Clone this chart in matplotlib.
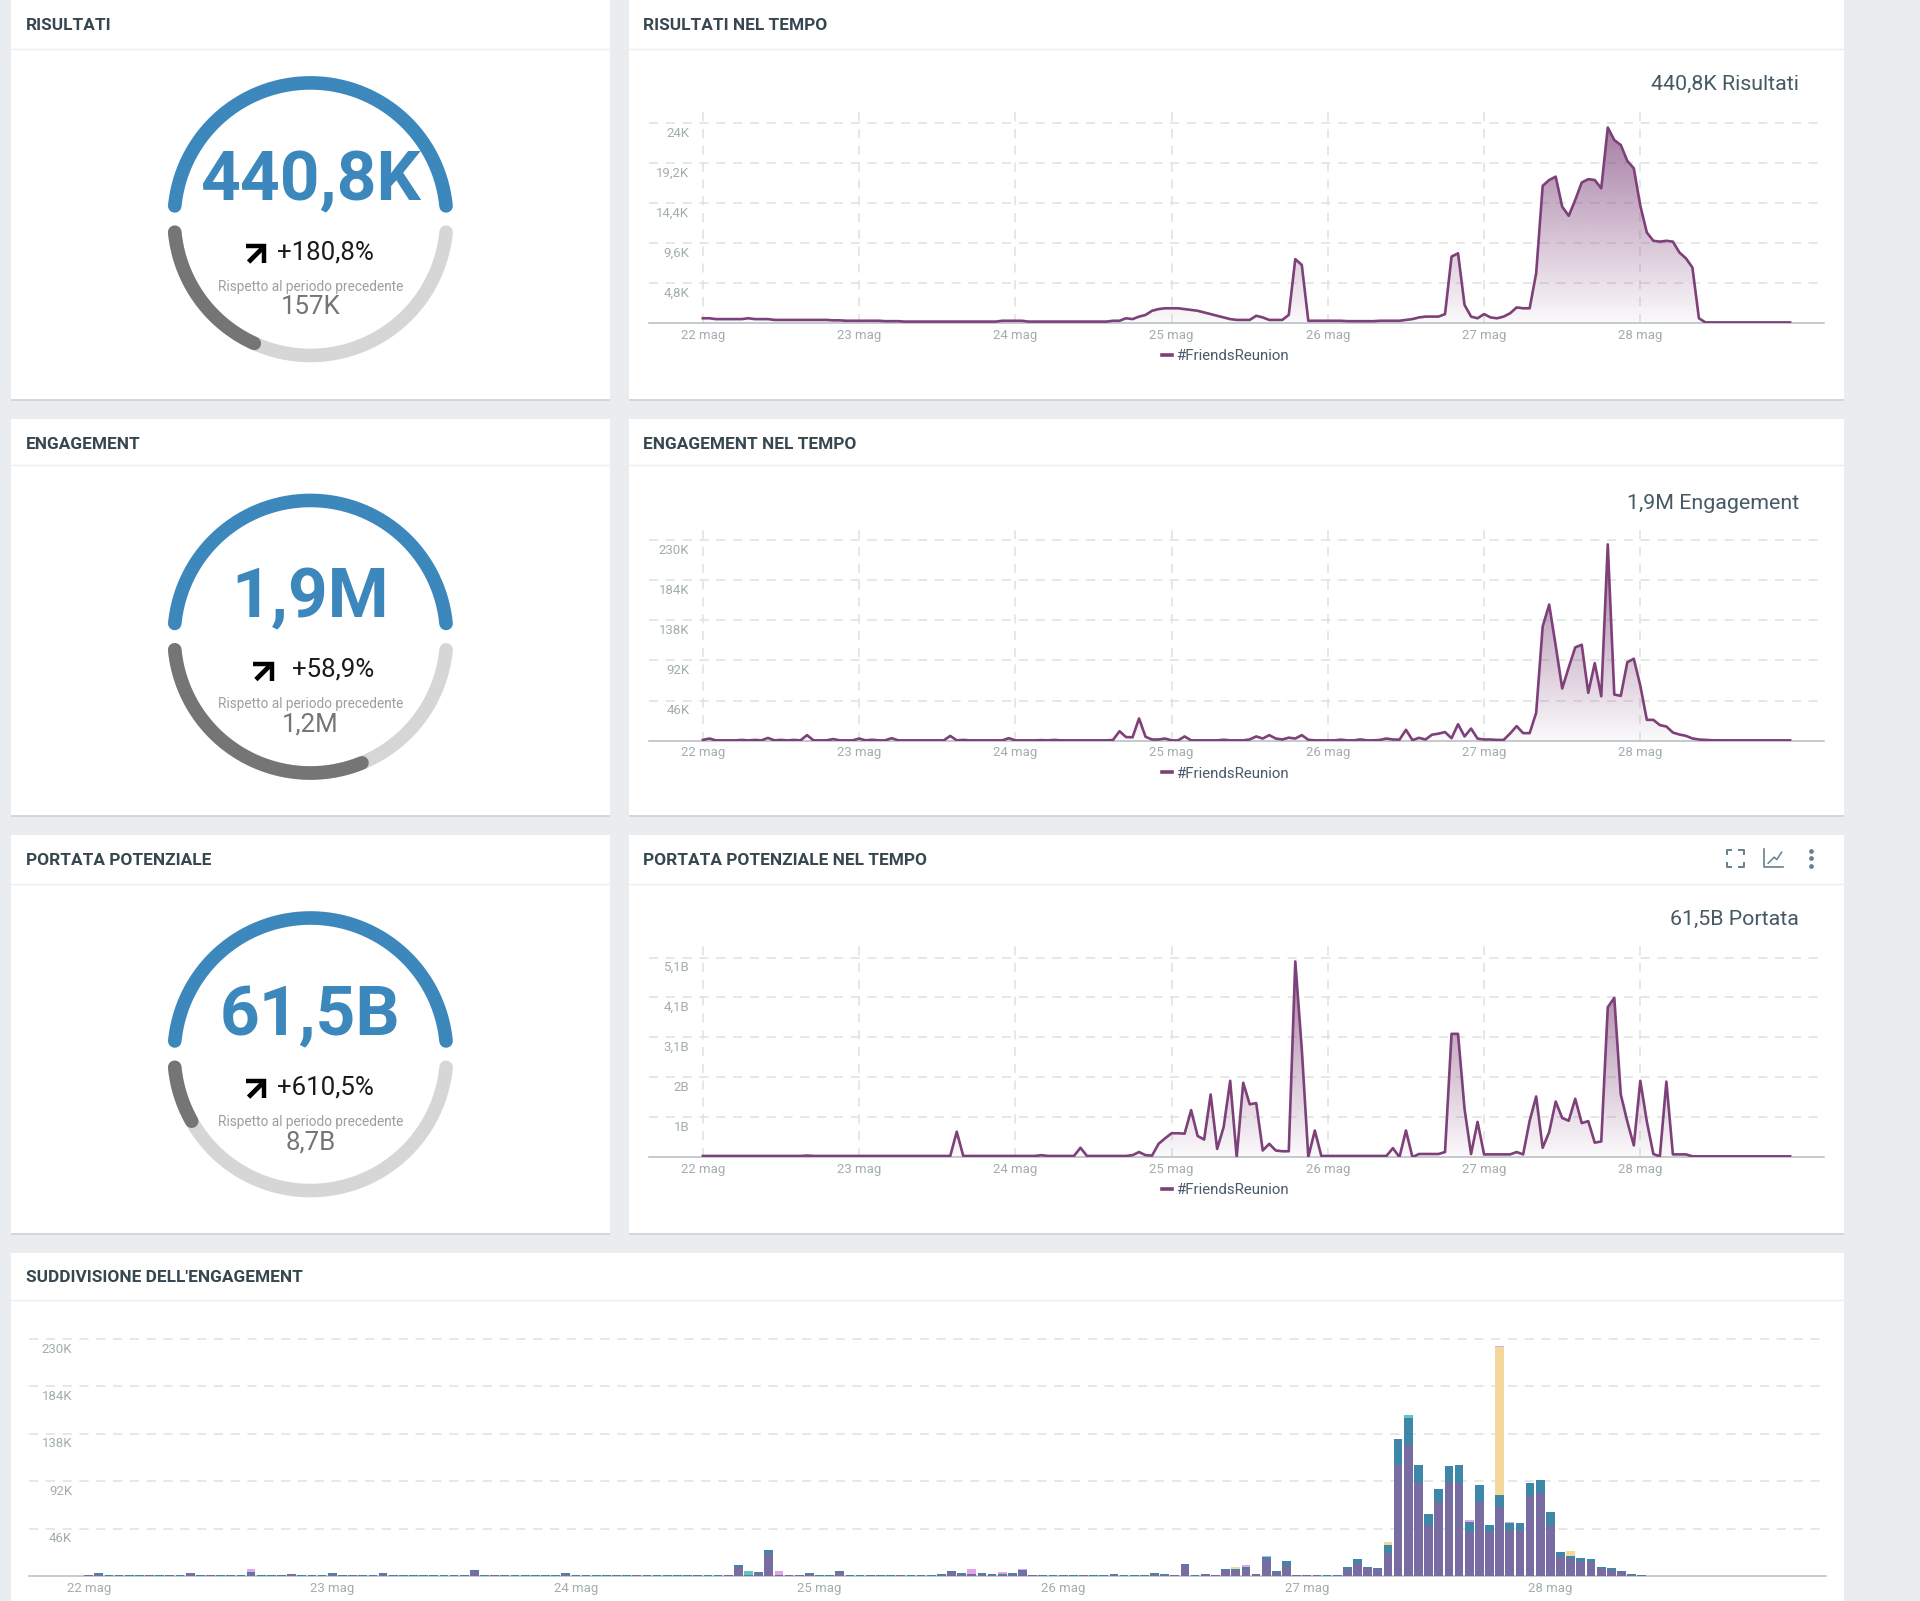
import numpy as np
import matplotlib
matplotlib.use('Agg')
import matplotlib.pyplot as plt
from matplotlib.patches import Rectangle
from matplotlib.transforms import ScaledTranslation

plt.rcParams['font.family'] = ['Roboto', 'DejaVu Sans']

# ---------- data (hourly, 22 May 00:00 onward) ----------
days = ['22 mag', '23 mag', '24 mag', '25 mag', '26 mag', '27 mag', '28 mag']

risultati = [
    .6,.6,.5,.5,.5,.5,.5,.6,.5,.5,.5,.4,.4,.4,.4,.4,.4,.4,.4,.4,.35,.35,.3,.3,
    .3,.3,.3,.3,.25,.25,.25,.2,.2,.2,.2,.2,.2,.2,.2,.2,.2,.2,.2,.2,.2,.2,.3,.3,
    .3,.3,.2,.2,.2,.2,.2,.2,.2,.2,.2,.2,.2,.2,.2,.3,.3,.6,.5,.8,1.0,1.5,1.7,1.8,
    1.8,1.8,1.7,1.6,1.5,1.3,1.1,.9,.7,.5,.4,.4,.4,.9,.7,.4,.4,.4,1.0,7.7,7,.3,.3,.3,
    .3,.3,.3,.25,.25,.25,.25,.25,.3,.3,.3,.3,.4,.5,.7,.8,.8,.8,1.1,8,8.4,2.2,.8,.6,
    1.1,.7,.6,.8,1.2,1.9,1.8,1.8,6,16.5,17.2,17.6,14,12.9,14.8,16.9,17.3,17.2,16.2,23.5,22,21.4,19.5,18.6,
    14.1,10.9,9.9,9.8,9.9,9.8,8.5,7.8,6.7,.6,.1,.1,.1,.1,.1,.1,.1,.1,.1,.1,.1,.1,.1,.1]

engagement = [
    1,2.6,.5,.5,.5,.5,1,.5,1,.5,3.3,.5,1,.5,1,.5,6.5,.5,.5,.5,2,.5,.5,.5,
    2.6,.5,1.2,.5,.5,3,.5,.5,.5,.5,.5,.5,.5,.5,5.6,.5,1,.5,.5,.5,.5,.5,.5,3,
    .5,.5,.5,.5,.8,.5,1,.5,.5,.5,.5,.5,.5,.5,.5,1,11,4.3,4,25.6,4.6,1.5,1.5,2.6,
    .5,.5,5,.5,.5,.5,.5,.5,1.2,.5,.5,.5,1.6,5,2.6,6.5,2.6,1.5,3.6,2.6,6.5,1.2,.5,.5,
    .5,.5,1.3,.5,.5,1.6,.5,.5,1,2.6,1.5,1.3,12.6,.8,3.4,1.5,7,8.2,10,3,19,5,14,2.5,
    1.5,1.5,1,1,8.4,16.8,8.8,8.8,32,131,156,109,60,84,107,110,55,89,51,225,53,51.5,90,94,
    63,24,24,18,16.4,9.5,7.2,5.7,2.7,1.5,1,.6,.5,.5,.5,.5,.5,.5,.5,.5,.5,.5,.5,.5]

portata = [
    .03,.03,.03,.03,.03,.03,.03,.03,.03,.03,.03,.03,.03,.03,.03,.03,.04,.03,.03,.03,.03,.03,.03,.03,
    .03,.03,.03,.03,.03,.03,.03,.03,.03,.03,.03,.03,.03,.03,.03,.65,.03,.03,.03,.03,.03,.03,.03,.03,
    .03,.03,.03,.03,.05,.03,.03,.03,.03,.03,.24,.03,.03,.03,.03,.03,.03,.03,.05,.13,.05,.04,.34,.48,
    .61,.61,.6,1.2,.54,.45,1.6,.21,.77,1.95,0,1.9,1.35,1.38,.17,.34,.17,.15,.15,5,2.76,0,.68,.03,
    .03,.03,.03,.03,.03,.03,.03,.03,.03,.03,.23,0,.68,0,.08,.08,.08,.08,.13,3.15,3.15,1.23,.08,.9,
    .07,.07,.07,.07,.07,.13,.07,.93,1.55,.24,.64,1.42,1,.93,1.49,.87,.92,.37,.4,3.83,4.07,1.6,.91,.3,
    1.95,.91,.08,.02,1.93,.07,.07,.07,.02,.02,.02,.02,.02,.02,.02,.02,.02,.02,.02,.02,.02,.02,.02,.02]

bar_purple = [
    .4,1.9,.3,.3,.3,.3,.7,.3,.7,.3,2.5,.3,.7,.3,.7,.3,3,.3,.3,.3,1.5,.3,.3,.3,
    2,.3,.9,.3,.3,2.3,.3,.3,.3,.3,.3,.3,.3,.3,4.4,.3,.7,.3,.3,.3,.3,.3,.3,2.3,
    .3,.3,.3,.3,.5,.3,.7,.3,.3,.3,.3,.3,.3,.3,.3,.7,8.8,.8,3,21.5,.7,1,1,1.9,
    .3,.3,3.8,.3,.3,.3,.3,.3,.8,.3,.3,.3,1.1,3.8,1.9,1.5,1.9,1,1.2,1.9,4.5,.8,.3,.3,
    .3,.3,.9,.3,.3,1.1,.3,.3,.3,1.9,1.1,.9,10.2,.3,1.4,.7,5.5,5.5,7,1.7,15.5,3.8,11,.7,
    .6,.5,.3,.3,6.5,12.9,7.4,6.5,22.6,107.4,127,90,49.7,72,91,90,43,72,42.6,66.8,44.5,44.5,78,80.6,
    49.7,19.4,16.1,14.8,13.5,7.7,6.1,4.2,1.3,.4,.2,.2,.2,.2,.2,.2,.2,.2,.2,.2,.2,.2,.2,.2]

bar_blue = [
    .1,.5,.1,.1,.1,.1,.1,.1,.1,.1,.5,.1,.1,.1,.1,.1,.4,.1,.1,.1,.3,.1,.1,.1,
    .4,.1,.2,.1,.1,.5,.1,.1,.1,.1,.1,.1,.1,.1,.9,.1,.2,.1,.1,.1,.1,.1,.1,.5,
    .1,.1,.1,.1,.2,.1,.2,.1,.1,.1,.1,.1,.1,.1,.1,.2,1.8,.5,.7,3.2,.3,.3,.3,.5,
    .1,.1,1,.1,.1,.1,.1,.1,.3,.1,.1,.1,.4,1,.5,.4,.5,.4,.3,.5,1,.3,.1,.1,
    .1,.1,.3,.1,.1,.4,.1,.1,.1,.5,.3,.3,1.5,.1,.4,.2,1,1.2,1.5,.4,3,1.2,3.3,.2,
    .2,.2,.1,.1,2.5,3.2,1.6,1.2,7.7,25.6,26,17.7,10.3,12.5,16,18,9,16,7.1,12.2,7.1,7.1,12,12.4,
    12.3,3.8,3.3,2.2,2.6,1.3,1.3,1,.3,.1,.1,.1,.1,.1,.1,.1,.1,.1,.1,.1,.1,.1,.1,.1]

yellow_hours = [113, 128, 139, 146]
yellow_vals = [1.5, 2.9, 143.6, 4.5]
pink_hours = [16, 68, 87, 90, 92, 114, 116, 136, 139, 140]
pink_vals = [3.1, 3.6, 4.6, 2.1, 1, 2, 1.2, 2, .9, .9]
teal_hours = [65, 130]
teal_vals = [3, 3.5]

panels = [
    dict(title='RISULTATI', big='440,8K', delta='+180,8%', prev='157K', ratio=157/440.8),
    dict(title='ENGAGEMENT', big='1,9M', delta='+58,9%', prev='1,2M', ratio=1.2/1.9),
    dict(title='PORTATA POTENZIALE', big='61,5B', delta='+610,5%', prev='8,7B', ratio=8.7/61.5),
]
series_titles = ['RISULTATI NEL TEMPO', 'ENGAGEMENT NEL TEMPO', 'PORTATA POTENZIALE NEL TEMPO']
series_totals = ['440,8K Risultati', '1,9M Engagement', '61,5B Portata']
tick_vals = [[4.8, 9.6, 14.4, 19.2, 24], [46, 92, 138, 184, 230], [1.02, 2.04, 3.06, 4.08, 5.1]]
tick_txt = [['4,8K', '9,6K', '14,4K', '19,2K', '24K'],
            ['46K', '92K', '138K', '184K', '230K'],
            ['1B', '2B', '3,1B', '4,1B', '5,1B']]
series_data = [risultati, engagement, portata]

# ---------- styles ----------
W, H = 1568.0, 1307.5
BG = '#e9edf0'
LINE = '#7d4079'
BLUE = '#3c87bc'
HEAD = '#37474f'
TICK = '#a3adad'
GRID = '#dfe1e1'
AXIS = '#b4bcc0'

fig = plt.figure(figsize=(19.2, 16.01), dpi=100, facecolor=BG)
ov = fig.add_axes([0, 0, 1, 1], zorder=0)
ov.set_xlim(0, W); ov.set_ylim(H, 0); ov.axis('off')


def card(x0, y0, x1, y1, line_y):
    ov.add_patch(Rectangle((x0, y0 + 1.5), x1 - x0, y1 - y0, fc='#d3d7da', ec='none'))
    ov.add_patch(Rectangle((x0, y0), x1 - x0, y1 - y0, fc='white', ec='none'))
    ov.plot([x0, x1], [line_y, line_y], color='#eceeef', lw=1)


def chart_axes(left, right, top, bottom):
    return fig.add_axes([left / W, 1 - bottom / H, (right - left) / W, (bottom - top) / H],
                        facecolor='none', zorder=2)


def style_y(ax, vals, txt, left, label_right, dy):
    ax.set_yticks(vals, txt)
    pad = -(label_right - left) * 1.2245 * 0.72
    ax.tick_params(axis='y', length=0, pad=pad, labelcolor=TICK, labelsize=9.5)
    off = ScaledTranslation(0, -dy * 1.2245 / 100, fig.dpi_scale_trans)
    for lab in ax.get_yticklabels():
        lab.set_transform(lab.get_transform() + off)
    ax.grid(axis='y', color=GRID, lw=1.1, ls=(0, (6, 5)))
    for s in ['top', 'left', 'right']:
        ax.spines[s].set_visible(False)
    ax.spines['bottom'].set_color(AXIS)
    ax.spines['bottom'].set_linewidth(1.1)
    ax.set_axisbelow(True)


# ---------- cards ----------
rows = [(0, 326, 40), (342, 666, 380), (682, 1007, 722)]
for (y0, y1, ly) in rows:
    card(9, y0 - (3 if y0 == 0 else 0), 498, y1, ly)
    card(514, y0 - (3 if y0 == 0 else 0), 1506, y1, ly)
card(9, 1023, 1506, 1320, 1062)

# ---------- gauges + left/right panels ----------
centers = [179, 520, 861]
arrow_dx = [0, 6, 0]
t_top = np.radians(np.linspace(5.6, 174.4, 200))
for i, p in enumerate(panels):
    cy = centers[i]
    y0, y1, ly = rows[i]
    ov.text(21, y0 + 21, p['title'], fontsize=12.4, fontweight='bold', color=HEAD, va='center')
    ov.text(525, y0 + 21, series_titles[i], fontsize=12.4, fontweight='bold', color=HEAD, va='center')
    R = 111.3
    cx = 253.5
    ov.plot(cx + R * np.cos(t_top), cy - R * np.sin(t_top), color=BLUE, lw=9.8, solid_capstyle='round')
    end = 185.5 + (354.5 - 185.5) * p['ratio']
    t_all = np.radians(np.linspace(185.5, 354.5, 200))
    t_dark = np.radians(np.linspace(185.5, end, 120))
    ov.plot(cx + R * np.cos(t_all), cy - R * np.sin(t_all), color='#d6d6d6', lw=9.8, solid_capstyle='round')
    ov.plot(cx + R * np.cos(t_dark), cy - R * np.sin(t_dark), color='#757575', lw=9.8, solid_capstyle='round')
    ov.text(cx, cy - 30.5, p['big'], fontsize=50, fontweight='bold', color=BLUE, ha='center', va='center')
    ov.text(266 + arrow_dx[i], cy + 27, p['delta'], fontsize=18.6, color='#1a1a1a', ha='center', va='center')
    ax0 = arrow_dx[i]
    ov.plot([203 + ax0, 214 + ax0], [cy + 35, cy + 24], color='black', lw=3.4, solid_capstyle='butt')
    ov.plot([201 + ax0, 216 + ax0, 216 + ax0], [cy + 22, cy + 22, cy + 36], color='black', lw=3.2,
            solid_joinstyle='miter', solid_capstyle='butt')
    ov.text(cx, cy + 55, 'Rispetto al periodo precedente', fontsize=9.85, color='#9e9e9e', ha='center', va='center')
    ov.text(cx, cy + 72, p['prev'], fontsize=18.6, color='#757575', ha='center', va='center')
    ov.text(1469, y0 + 69, series_totals[i], fontsize=15.4, color='#455a64', ha='right', va='center')

# ---------- area charts ----------
baselines = [264, 605, 945]
tops = [87, 427, 769]
gridstep = [32.65, 32.8, 32.6]
L, Rr = 530, 1490
day_px = 127.6
xl = (L - 574) / day_px * 24
xr = (Rr - 574) / day_px * 24
for i, y in enumerate(series_data):
    ax = chart_axes(L, Rr, tops[i], baselines[i])
    x = np.arange(len(y))
    ymax = (baselines[i] - tops[i]) / gridstep[i] * tick_vals[i][0]
    ax.set_xlim(xl, xr); ax.set_ylim(0, ymax)
    poly = ax.fill_between(x, 0, y, color='none', lw=0)
    peak = max(y)
    grad = np.zeros((256, 2, 4))
    grad[..., 0] = 0x7d / 255; grad[..., 1] = 0x40 / 255; grad[..., 2] = 0x79 / 255
    grad[..., 3] = np.linspace(0.68, 0.03, 256)[:, None]
    im = ax.imshow(grad, extent=[x[0], x[-1], 0, peak], origin='upper', aspect='auto', zorder=1.5)
    im.set_clip_path(poly.get_paths()[0], transform=ax.transData)
    ax.set_xlim(xl, xr); ax.set_ylim(0, ymax)
    ax.plot(x, y, color=LINE, lw=1.9, solid_joinstyle='round', zorder=3, label='#FriendsReunion')
    style_y(ax, tick_vals[i], tick_txt[i], L, 563, 7)
    ax.set_xticks(np.arange(7) * 24, days)
    ax.tick_params(axis='x', length=0, pad=4, labelcolor=TICK, labelsize=9.5)
    ax.grid(axis='x', color=GRID, lw=1.1, ls=(0, (6, 5)))
    leg_y = -(baselines[i] + 21 - baselines[i]) / (baselines[i] - tops[i])
    leg = ax.legend(loc='upper center', bbox_to_anchor=((1001 - L) / (Rr - L), leg_y), frameon=False,
                    fontsize=10.8, handlelength=0.65, handletextpad=0.3, labelcolor='#4a5a6a',
                    borderpad=0, borderaxespad=0)
    for h in leg.get_lines():
        h.set_linewidth(2.6)

# ---------- toolbar icons (third row) ----------
ICON = '#66808f'
c = (1417, 701); d = 7; k = 3.5
for sx in (-1, 1):
    for sy in (-1, 1):
        ov.plot([c[0] + sx * d, c[0] + sx * d, c[0] + sx * (d - k)],
                [c[1] + sy * (d - k), c[1] + sy * d, c[1] + sy * d], color=ICON, lw=1.4)
ov.plot([1441, 1441, 1456], [693, 708, 708], color=ICON, lw=1.2)
ov.plot([1444, 1449, 1451, 1455], [705, 700, 702, 696], color=ICON, lw=1.1)
ov.plot([1479, 1479, 1479], [695, 701, 707], ls='none', marker='o', ms=2.4, color=ICON)

# ---------- bottom stacked bars ----------
ov.text(21, 1043, "SUDDIVISIONE DELL'ENGAGEMENT", fontsize=12.4, fontweight='bold', color=HEAD, va='center')
bl, br, bt, bb = 24, 1491, 1085, 1287
bax = chart_axes(bl, br, bt, bb)
hpx = 8.29
hours = np.arange(len(bar_purple))
bax.set_xlim((bl - 72.4) / hpx, (br - 72.4) / hpx)
bax.set_ylim(0, (bb - bt) / 38.7 * 46)
bw = 0.86
purple = np.array(bar_purple)
blue = np.array(bar_blue)


def sparse(hs, vs):
    a = np.zeros(len(hours))
    a[hs] = vs
    return a


yellow, pink, teal = sparse(yellow_hours, yellow_vals), sparse(pink_hours, pink_vals), sparse(teal_hours, teal_vals)
bottom = np.zeros(len(hours))
for vals, col in [(purple, '#776da3'), (blue, '#3f87a9'), (teal, '#5cc9bd'), (yellow, '#f3d79b'), (pink, '#e3a5ea')]:
    bax.bar(hours, vals, bottom=bottom, width=bw, color=col, lw=0, zorder=3)
    bottom = bottom + vals
style_y(bax, tick_vals[1], tick_txt[1], bl, 59, 7)
bax.set_xticks(np.arange(7) * 24, days)
bax.tick_params(axis='x', length=0, pad=4.5, labelcolor=TICK, labelsize=9.5)

fig.savefig('out.png', dpi=100, facecolor=BG)
